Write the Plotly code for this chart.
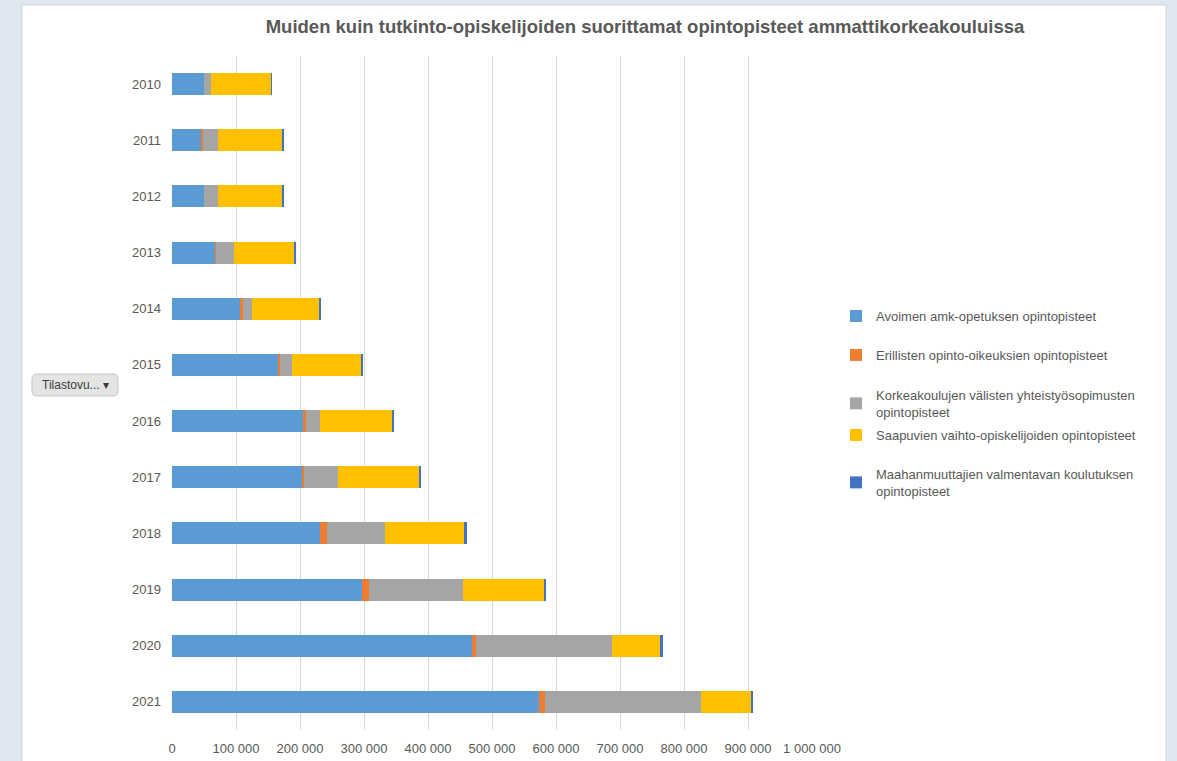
import plotly.graph_objects as go

# Academic years shown on the category axis
years = ["2010", "2011", "2012", "2013", "2014", "2015",
         "2016", "2017", "2018", "2019", "2020", "2021"]

# Credits (opintopisteet) per category and year
avoimen = [50000, 45800, 50000, 68700, 106200, 166700,
           204700, 202600, 231800, 296900, 468200, 574000]
erillisten = [300, 2100, 500, 500, 4200, 2000,
              4200, 4200, 10900, 10400, 7300, 9300]
korkeakoulujen = [10600, 24500, 21900, 27700, 14600, 18800,
                  22300, 52600, 90600, 147400, 212500, 242700]
saapuvien = [93800, 100000, 100000, 94200, 106200, 108300,
             113100, 127100, 124500, 126600, 74000, 78700]
maahanmuuttajien = [1500, 1500, 1500, 1500, 1500, 1500,
                    2000, 3000, 3000, 3100, 5200, 3100]

series_names = [
    "Avoimen amk-opetuksen opintopisteet",
    "Erillisten opinto-oikeuksien opintopisteet",
    "Korkeakoulujen välisten yhteistyösopimusten<br>opintopisteet",
    "Saapuvien vaihto-opiskelijoiden opintopisteet",
    "Maahanmuuttajien valmentavan koulutuksen<br>opintopisteet",
]
series_values = [avoimen, erillisten, korkeakoulujen, saapuvien, maahanmuuttajien]
series_colors = ["#5b9bd5", "#ed7d31", "#a5a5a5", "#ffc000", "#4472c4"]

x_ticks = list(range(0, 1000001, 100000))

W, H = 1177, 761
L, R, T, B = 172, 812, 56, 730  # plot area in pixels

TEXT = "#595959"
FONT = "Liberation Sans, Arial, sans-serif"

fig = go.Figure()
legend_ids = ["legend", "legend2", "legend3", "legend4", "legend5"]
for name, vals, col, lg in zip(series_names, series_values, series_colors, legend_ids):
    fig.add_trace(go.Bar(
        y=years, x=vals, name=name, orientation="h",
        marker=dict(color=col, line=dict(width=0)),
        legend=lg, showlegend=True,
    ))

# Legend entries, one box each so their rows sit on an even pitch
legend_rows = [316, 355, 395, 435, 474]
legend_common = dict(
    xref="container", yref="container", xanchor="left", yanchor="top",
    font=dict(family=FONT, size=13, color=TEXT),
    bgcolor="rgba(0,0,0,0)", borderwidth=0, itemclick=False,
)
legend_layout = {}
for lg, row in zip(legend_ids, legend_rows):
    legend_layout[lg] = dict(x=836 / W, y=1 - (row - 15) / H, **legend_common)

def px_x(p):
    return (p - L) / (R - L)

def px_y(p):
    return (B - p) / (B - T)

# White card that holds the chart
card = dict(type="rect", xref="paper", yref="paper",
            x0=px_x(22), x1=px_x(1166), y0=px_y(775), y1=px_y(5),
            fillcolor="white", line=dict(color="#d4d4d4", width=1), layer="below")

# Rounded field button on the left
bx0, bx1, by0, by1, r = 32, 118, 374, 396, 5
def pt(x, y):
    return f"{px_x(x):.5f},{px_y(y):.5f}"
button_path = (
    f"M {pt(bx0 + r, by0)} L {pt(bx1 - r, by0)} Q {pt(bx1, by0)} {pt(bx1, by0 + r)} "
    f"L {pt(bx1, by1 - r)} Q {pt(bx1, by1)} {pt(bx1 - r, by1)} "
    f"L {pt(bx0 + r, by1)} Q {pt(bx0, by1)} {pt(bx0, by1 - r)} "
    f"L {pt(bx0, by0 + r)} Q {pt(bx0, by0)} {pt(bx0 + r, by0)} Z"
)
button = dict(type="path", xref="paper", yref="paper", path=button_path,
              fillcolor="#e4e4e4", line=dict(color="#c6c6c6", width=1))

fig.update_layout(
    width=W, height=H,
    margin=dict(l=L, r=W - R, t=T, b=H - B, autoexpand=False),
    showlegend=True,
    paper_bgcolor="#dfe8f1",
    plot_bgcolor="white",
    barmode="stack",
    bargap=0.61,
    separators=", ",
    title=dict(
        text="<b>Muiden kuin tutkinto-opiskelijoiden suorittamat opintopisteet ammattikorkeakouluissa</b>",
        x=645 / W, y=1 - 27 / H, xanchor="center", yanchor="middle",
        xref="container", yref="container",
        font=dict(family=FONT, size=18.5, color=TEXT),
    ),
    xaxis=dict(
        range=[0, 1000000], tickvals=x_ticks, tickformat=",d",
        showgrid=True, gridcolor="#d9d9d9", gridwidth=1,
        zeroline=False, showline=False, ticks="",
        tickfont=dict(family=FONT, size=13, color=TEXT),
        ticklabelstandoff=9,
    ),
    yaxis=dict(
        type="category", autorange="reversed",
        showgrid=False, zeroline=False, showline=False, ticks="",
        tickfont=dict(family=FONT, size=13, color=TEXT),
        ticklabelstandoff=10,
    ),
    shapes=[card, button],
    annotations=[dict(
        text="Tilastovu... ▾", xref="paper", yref="paper",
        x=px_x(75), y=px_y(385), xanchor="center", yanchor="middle",
        showarrow=False, font=dict(family=FONT, size=12, color="#3a3a3a"),
    )],
    **legend_layout,
)

fig.write_html("out.html")
